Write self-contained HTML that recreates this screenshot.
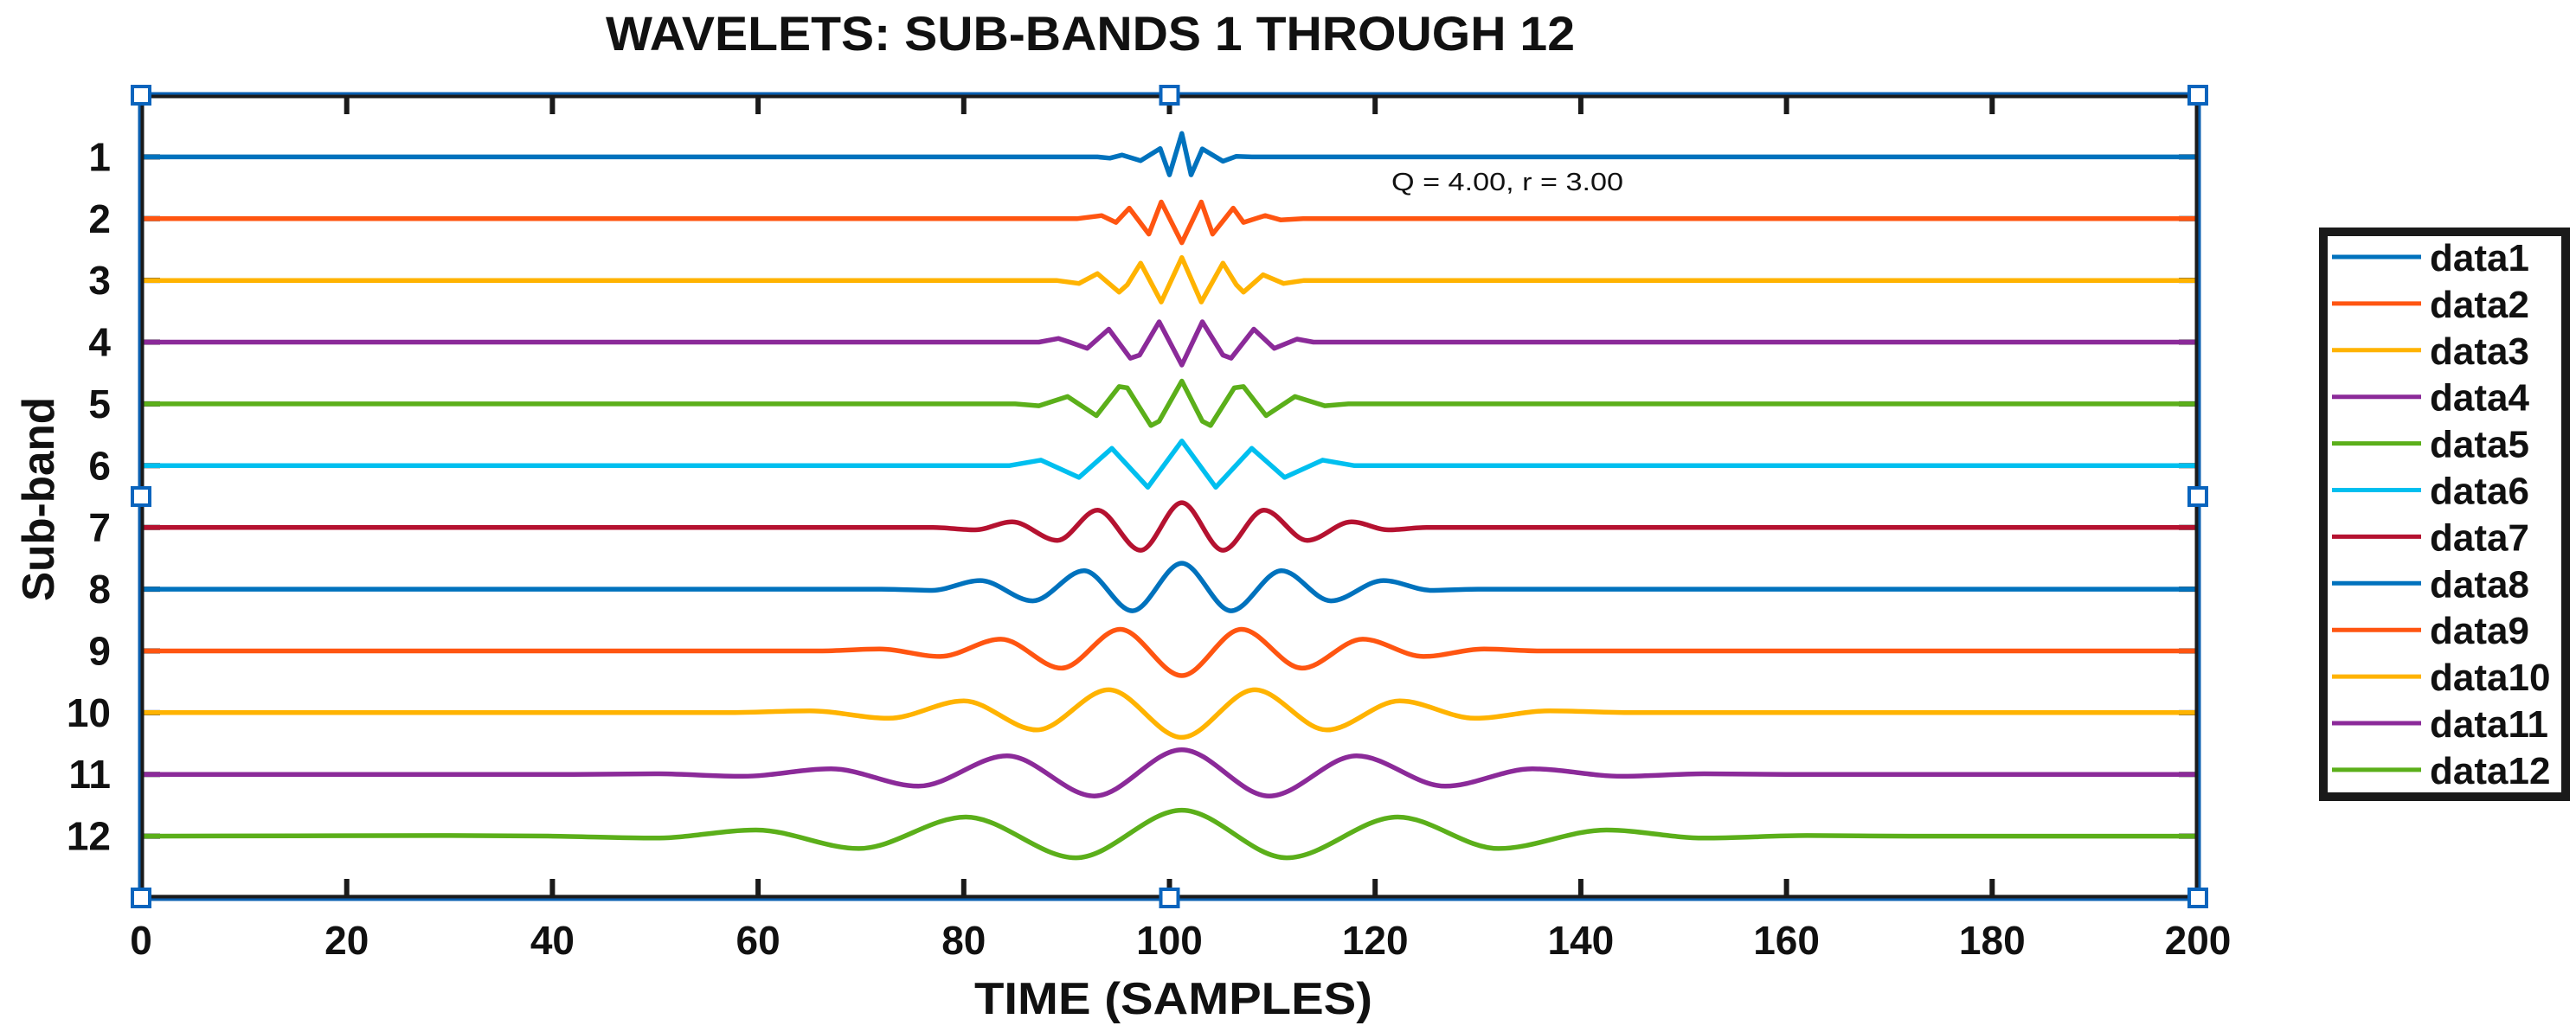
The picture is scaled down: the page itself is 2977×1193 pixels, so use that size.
<!DOCTYPE html>
<html><head><meta charset="utf-8"><title>Wavelets</title>
<style>html,body{margin:0;padding:0;background:#fff;}svg{display:block;}
text{font-family:"Liberation Sans",Arial,sans-serif;fill:#111;}</style></head>
<body>
<svg id="chart" width="2977" height="1193" viewBox="0 0 2977 1193" xmlns="http://www.w3.org/2000/svg">
<rect width="2977" height="1193" fill="#fff"/>
<text x="1260" y="58" font-size="56" font-weight="bold" text-anchor="middle" textLength="1120" lengthAdjust="spacingAndGlyphs">WAVELETS: SUB-BANDS 1 THROUGH 12</text>
<text x="1356" y="1172" font-size="52" font-weight="bold" text-anchor="middle" textLength="460" lengthAdjust="spacingAndGlyphs">TIME (SAMPLES)</text>
<text transform="translate(62,577) rotate(-90)" font-size="52" font-weight="bold" text-anchor="middle" textLength="236" lengthAdjust="spacingAndGlyphs">Sub-band</text>
<text x="1742" y="220" font-size="29" text-anchor="middle" textLength="268" lengthAdjust="spacingAndGlyphs">Q = 4.00, r = 3.00</text>
<g id="ticks"></g>
<g id="series"></g>
<g id="frame"></g>
<g id="legend"></g>
</svg>
<script>
const xTickValues = [0,20,40,60,80,100,120,140,160,180,200];
const yTickValues = [1,2,3,4,5,6,7,8,9,10,11,12];
const seriesNames = ["data1","data2","data3","data4","data5","data6","data7","data8","data9","data10","data11","data12"];
const seriesColors = ["#0072BD","#FF5511","#FFB300","#8B2A99","#5BAF1A","#00BFEF","#B51230","#0072BD","#FF5511","#FFB300","#8B2A99","#5BAF1A"];
const extremaTimes = [
 [0,93,94.2,95.4,97.2,99.1,100,101.2,102.1,103.2,105.2,106.5,108,200],
 [0,91,93.4,94.8,96.1,98,99.2,101.2,103.1,104.2,106.2,107.2,109.3,110.8,113,200],
 [0,89,91.2,93,95.1,95.9,97.2,99.2,101.2,103.1,105.2,106.5,107.2,109.1,111.1,113.1,200],
 [0,85,87.3,89.2,90.3,92,94.1,96.2,97.1,99,101.2,103.2,105.2,106,108.2,110.2,112.4,114,115.5,200],
 [0,85,87.3,90.1,92.9,95.1,95.9,98.2,99,101.2,103.2,104,106.3,107.2,109.4,112.2,115.1,117.4,200],
 [0,84.4,87.5,91.2,94.4,97.9,101.2,104.5,108,111.2,114.9,118,200],
 [0,77,81.1,84.7,89.1,93,97.2,101.2,105.2,109.2,113.4,117.7,121.3,125,200],
 [0,72,76.9,81.6,86.7,91.7,96.4,101.2,106,110.9,115.7,120.8,125.5,130,200],
 [0,66,71.8,77.7,83.6,89.5,95.2,101.2,107,112.9,118.8,124.7,130.6,136,200],
 [0,57,65,72.7,80,87.1,94.1,101.2,108.3,115.3,122.4,129.7,137,145,200],
 [0,42,50,58.5,67.1,75.6,84.2,92.7,101.2,109.7,118.2,126.8,135.3,144,152,160,200],
 [0,30,40,50,59.8,69.8,80.2,90.9,101.2,111.4,122.2,132,142.5,152,162,172,200]
];
const extremaValues = [
 [0,0,-0.02,0.03,-0.06,0.135,-0.29,0.38,-0.29,0.13,-0.07,0.01,0,0],
 [0,0,0.05,-0.06,0.17,-0.25,0.27,-0.39,0.27,-0.25,0.17,-0.06,0.05,-0.02,0,0],
 [0,0,-0.05,0.11,-0.19,-0.07,0.28,-0.35,0.37,-0.35,0.28,-0.07,-0.19,0.09,-0.05,0,0],
 [0,0,0,0.06,0,-0.10,0.21,-0.26,-0.21,0.33,-0.37,0.33,-0.21,-0.26,0.21,-0.10,0.05,0,0,0],
 [0,0,-0.03,0.12,-0.19,0.28,0.26,-0.35,-0.28,0.37,-0.28,-0.35,0.26,0.28,-0.19,0.12,-0.03,0,0],
 [0,0,0.09,-0.19,0.28,-0.35,0.40,-0.35,0.28,-0.19,0.09,0,0],
 [0,0,-0.04,0.09,-0.21,0.28,-0.37,0.40,-0.37,0.28,-0.21,0.09,-0.04,0,0],
 [0,0,-0.02,0.14,-0.19,0.30,-0.35,0.42,-0.35,0.30,-0.19,0.14,-0.02,0,0],
 [0,0,0.03,-0.09,0.19,-0.28,0.35,-0.40,0.35,-0.28,0.19,-0.09,0.03,0,0],
 [0,0,0.03,-0.09,0.19,-0.28,0.37,-0.40,0.37,-0.28,0.19,-0.09,0.03,0,0],
 [0,0,0.01,-0.03,0.09,-0.19,0.30,-0.35,0.40,-0.35,0.30,-0.19,0.09,-0.03,0.01,0,0],
 [0,0.01,0,-0.03,0.10,-0.2,0.31,-0.35,0.42,-0.35,0.31,-0.2,0.10,-0.03,0.01,0,0]
];
const smoothSeries = [false,false,false,false,false,false,true,true,true,true,true,true];

const NS = "http://www.w3.org/2000/svg";
const X0 = 163, X1 = 2540, Y0 = 110, Y1 = 1038;
const xDomain = [0,200], yDomain = [0,13];
function xScale(v){ return X0 + (v - xDomain[0]) / (xDomain[1]-xDomain[0]) * (X1 - X0); }
function yScale(v){ return Y0 + (v - yDomain[0]) / (yDomain[1]-yDomain[0]) * (Y1 - Y0); }
function mk(tag, attrs, parent){ const e = document.createElementNS(NS, tag); for (const k in attrs) e.setAttribute(k, attrs[k]); parent.appendChild(e); return e; }

const ticksG = document.getElementById('ticks');
xTickValues.forEach(v => {
  const x = xScale(v);
  if (v > xDomain[0] && v < xDomain[1]) {
    const t1 = mk('line', {x1:x, x2:x, y1:Y0, y2:Y0+22, stroke:'#1a1a1a', 'stroke-width':6}, ticksG);
    
    
    const t2 = mk('line', {x1:x, x2:x, y1:Y1, y2:Y1-22, stroke:'#1a1a1a', 'stroke-width':6}, ticksG);
    
    
  }
  const lbl = mk('text', {x:x, y:1103, 'font-size':46, 'font-weight':'bold', 'text-anchor':'middle'}, ticksG);
  lbl.textContent = String(v);
  
  
});
yTickValues.forEach(v => {
  const y = yScale(v);
  const t1 = mk('line', {x1:X0, x2:X0+22, y1:y, y2:y, stroke:'#1a1a1a', 'stroke-width':6}, ticksG);
  
  
  const t2 = mk('line', {x1:X1, x2:X1-22, y1:y, y2:y, stroke:'#1a1a1a', 'stroke-width':6}, ticksG);
  
  
  const lbl = mk('text', {x:128, y:y+16, 'font-size':46, 'font-weight':'bold', 'text-anchor':'end'}, ticksG);
  lbl.textContent = String(v);
  
  
});

function linearPath(pts){ return 'M' + pts.map(p => p[0].toFixed(1)+','+p[1].toFixed(1)).join(' L'); }
function smoothPath(pts){
  const n = pts.length;
  const m = pts.map((p, i) => {
    if (i === 0 || i === n-1) return 0;
    const a = pts[i-1], b = pts[i+1];
    if (Math.abs(a[1]-p[1]) < 0.01 || Math.abs(b[1]-p[1]) < 0.01) return 0;
    const s1 = (p[1]-a[1])/(p[0]-a[0]), s2 = (b[1]-p[1])/(b[0]-p[0]);
    if (s1*s2 <= 0) return 0;
    return (s1+s2)/2;
  });
  let d = 'M' + pts[0][0].toFixed(1) + ',' + pts[0][1].toFixed(1);
  for (let i = 0; i < n - 1; i++) {
    const p1 = pts[i], p2 = pts[i+1], dx = (p2[0]-p1[0])/3;
    d += ' C' + (p1[0]+dx).toFixed(1)+','+(p1[1]+m[i]*dx).toFixed(1)+' '+(p2[0]-dx).toFixed(1)+','+(p2[1]-m[i+1]*dx).toFixed(1)+' '+p2[0].toFixed(1)+','+p2[1].toFixed(1);
  }
  return d;
}
const seriesG = document.getElementById('series');
extremaTimes.forEach((times, i) => {
  const band = yTickValues[i];
  const pts = times.map((t, j) => [xScale(t), yScale(band - extremaValues[i][j])]);
  const d = smoothSeries[i] ? smoothPath(pts) : linearPath(pts);
  const path = mk('path', {d:d, fill:'none', stroke:seriesColors[i], 'stroke-width':5.5, 'stroke-linejoin':'round', 'stroke-linecap':'butt'}, seriesG);
  
  
});

const frameG = document.getElementById('frame');
const fr = mk('rect', {x:X0, y:Y0, width:X1-X0, height:Y1-Y0, fill:'none', stroke:'#1a1a1a', 'stroke-width':7}, frameG);


const fb = mk('rect', {x:X0-2, y:Y0-2, width:X1-X0+4, height:Y1-Y0+4, fill:'none', stroke:'#0a5fb0', 'stroke-width':3}, frameG);


const handleXs = [X0, (X0+X1)/2, X1], handleYs = [Y0, (Y0+Y1)/2, Y1];
handleXs.forEach(hx => handleYs.forEach(hy => {
  if (hx === (X0+X1)/2 && hy === (Y0+Y1)/2) return;
  const h = mk('rect', {x:hx-10, y:hy-10, width:20, height:20, fill:'#fff', stroke:'#0a64bd', 'stroke-width':4}, frameG);
  
  
}));

const legG = document.getElementById('legend');
const lb = mk('rect', {x:2685, y:268, width:280, height:653, fill:'#fff', stroke:'#1a1a1a', 'stroke-width':10}, legG);


seriesNames.forEach((nm, i) => {
  const y = 297 + i * 53.9;
  const g = mk('g', {}, legG);
  
  
  mk('line', {x1:2695, x2:2798, y1:y, y2:y, stroke:seriesColors[i], 'stroke-width':5}, g);
  const t = mk('text', {x:2808, y:y+16, 'font-size':44, 'font-weight':'bold'}, g);
  t.textContent = nm;
  
  
});
</script>
</body></html>
